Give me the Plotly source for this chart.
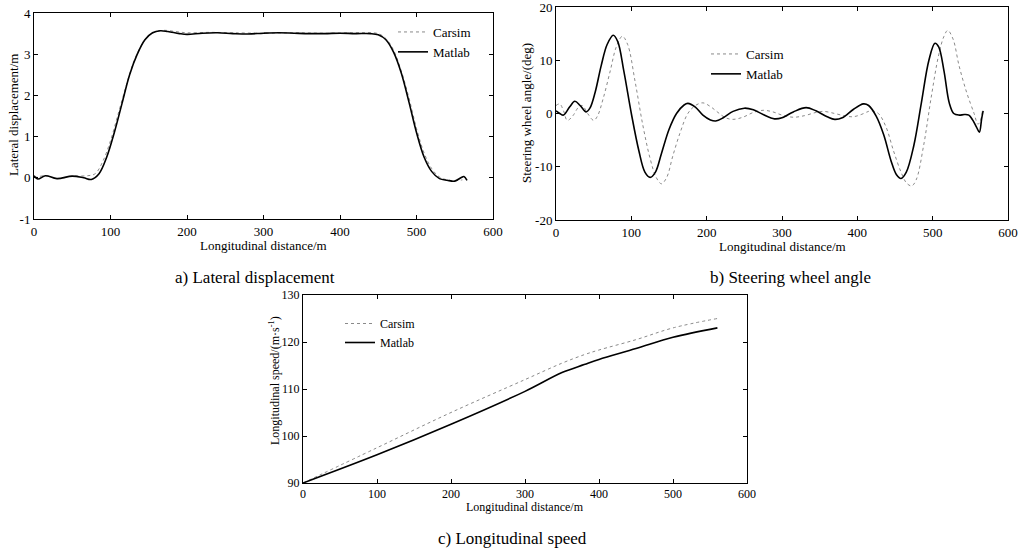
import plotly.graph_objects as go

# a) lateral displacement
lat_x_matlab = [0, 5, 15, 30, 50, 65, 75, 85, 95, 105, 115, 125, 135, 145, 155, 165, 175, 190, 200, 220, 240,
                260, 280, 300, 320, 340, 360, 380, 400, 420, 440, 450, 460, 470, 480, 490, 500, 510, 520, 530,
                540, 550, 558, 562, 566]
lat_y_matlab = [0.05, -0.03, 0.05, -0.02, 0.04, 0.0, -0.04, 0.1, 0.5, 1.1, 1.8, 2.5, 3.0, 3.35, 3.52, 3.57, 3.55,
                3.5, 3.48, 3.51, 3.52, 3.5, 3.49, 3.51, 3.52, 3.51, 3.5, 3.5, 3.51, 3.5, 3.5, 3.47, 3.35, 3.05,
                2.55, 1.85, 1.1, 0.5, 0.15, -0.02, -0.06, -0.08, 0.0, 0.03, -0.06]
lat_x_carsim = [0, 15, 30, 50, 70, 80, 90, 100, 110, 120, 130, 140, 150, 160, 170, 185, 200, 230, 260, 300,
                340, 380, 420, 440, 450, 460, 470, 480, 490, 500, 510, 520, 530, 540, 550, 560]
lat_y_carsim = [0.0, 0.05, -0.02, 0.04, 0.05, 0.1, 0.4, 0.9, 1.55, 2.2, 2.8, 3.2, 3.45, 3.55, 3.58, 3.55, 3.52,
                3.53, 3.52, 3.51, 3.52, 3.51, 3.52, 3.52, 3.5, 3.38, 3.1, 2.6, 1.95, 1.2, 0.6, 0.22, 0.02,
                -0.05, -0.07, -0.05]
lat_ticks = [-1, 0, 1, 2, 3, 4]

# b) steering wheel angle
sw_x_matlab = [0, 5, 10, 18, 25, 32, 40, 45, 52, 60, 68, 76, 82, 90, 100, 110, 118, 125, 132, 140, 150, 160,
               170, 175, 185, 195, 205, 212, 222, 235, 250, 262, 275, 290, 300, 315, 332, 345, 360, 370, 380,
               395, 408, 415, 425, 435, 445, 452, 458, 465, 475, 485, 495, 503, 508, 515, 522, 528, 535, 542,
               548, 553, 558, 562, 565, 567]
sw_y_matlab = [0.5, 0.0, -0.3, 1.2, 2.3, 1.5, 0.3, 1.0, 4.0, 9.0, 13.0, 14.7, 13.5, 8.0, 0.0, -7.0, -11.0, -12.0,
               -11.0, -7.5, -3.0, 0.0, 1.6, 1.9, 1.2, -0.3, -1.2, -1.4, -0.8, 0.4, 1.0, 0.7, -0.2, -1.0, -0.8,
               0.3, 1.1, 0.5, -0.6, -1.1, -0.8, 0.8, 1.8, 1.5, -0.5, -4.0, -9.0, -11.5, -12.2, -11.0, -6.0, 2.0,
               10.0, 13.2, 12.5, 8.0, 2.0, 0.0, -0.3, -0.2, -0.3, -1.2, -2.5, -3.5, -1.0, 0.5]
sw_x_carsim = [0, 5, 10, 15, 22, 30, 35, 42, 50, 55, 63, 72, 80, 88, 95, 105, 115, 125, 133, 140, 147, 155, 165,
               175, 185, 195, 205, 215, 225, 235, 248, 262, 275, 288, 300, 315, 330, 345, 355, 370, 385, 395,
               405, 415, 420, 428, 438, 448, 458, 465, 472, 478, 488, 498, 508, 515, 520, 527, 535, 545, 555,
               560, 563, 566]
sw_y_carsim = [1.5, 1.8, 0.5, -1.3, -0.5, 1.2, 1.5, 0.0, -1.3, -0.5, 3.0, 8.0, 12.5, 14.5, 13.0, 6.0, -2.0, -8.5,
               -12.0, -13.2, -12.0, -8.0, -3.5, 0.0, 1.5, 2.0, 1.3, 0.2, -0.8, -1.1, -0.7, 0.2, 0.6, 0.3, -0.3,
               -0.7, -0.4, 0.2, 0.4, 0.0, -0.5, -0.6, -0.2, 0.4, 0.5, 0.0, -2.5, -7.0, -11.0, -13.0, -13.6,
               -12.5, -6.0, 3.0, 11.0, 14.5, 15.6, 14.0, 9.0, 4.0, 0.0, -2.0, -1.5, 0.5]
sw_ticks = [-20, -10, 0, 10, 20]

# c) longitudinal speed
sp_x = [0, 100, 200, 300, 350, 380, 400, 450, 500, 560]
sp_carsim = [90, 97.5, 105, 112, 115.5, 117.3, 118.3, 120.5, 123, 125]
sp_matlab = [90, 96, 102.5, 109.5, 113.5, 115.2, 116.3, 118.6, 121, 123]
sp_ticks = [90, 100, 110, 120, 130]

dist_ticks = [0, 100, 200, 300, 400, 500, 600]

FONT = "Liberation Serif"
CARSIM = dict(color="#8a8a8a", width=1, dash="dot")
MATLAB = dict(color="#000000", width=1.6)

W, H = 1026, 550


def px_x(p):
    return p / W


def px_y(p):
    return 1 - p / H


fig = go.Figure()

panels = [
    ("", lat_x_carsim, lat_y_carsim, lat_x_matlab, lat_y_matlab, "legend"),
    ("2", sw_x_carsim, sw_y_carsim, sw_x_matlab, sw_y_matlab, "legend2"),
    ("3", sp_x, sp_carsim, sp_x, sp_matlab, "legend3"),
]
for suf, xc, yc, xm, ym, leg in panels:
    fig.add_trace(go.Scatter(x=xc, y=yc, mode="lines", name="Carsim", line=dict(CARSIM, shape="spline"),
                             xaxis="x" + suf, yaxis="y" + suf, legend=leg))
    fig.add_trace(go.Scatter(x=xm, y=ym, mode="lines", name="Matlab", line=dict(MATLAB, shape="spline"),
                             xaxis="x" + suf, yaxis="y" + suf, legend=leg))


def axis(ticks, size=13, **kw):
    # plain hyphen minus signs, like the original figure
    return dict(showline=True, linecolor="black", linewidth=1, mirror="ticks", ticks="inside", ticklen=4,
                tickcolor="black", showgrid=False, zeroline=False, automargin=False,
                ticklabeloverflow="allow",
                tickvals=ticks, ticktext=[str(t) for t in ticks], range=[ticks[0], ticks[-1]],
                tickfont=dict(family=FONT, size=size, color="black"), **kw)


leg_style = dict(xanchor="left", yanchor="top", bgcolor="rgba(0,0,0,0)", itemwidth=30)

fig.update_layout(
    width=W, height=H,
    margin=dict(l=0, r=0, t=0, b=0),
    paper_bgcolor="white", plot_bgcolor="white",
    font=dict(family=FONT, size=13, color="black"),
    xaxis=axis(dist_ticks, domain=[px_x(34), px_x(493)], anchor="y"),
    yaxis=axis(lat_ticks, domain=[px_y(219), px_y(13)], anchor="x"),
    xaxis2=axis(dist_ticks, domain=[px_x(556), px_x(1008)], anchor="y2"),
    yaxis2=axis(sw_ticks, domain=[px_y(220), px_y(7)], anchor="x2"),
    xaxis3=axis(dist_ticks, 12, domain=[px_x(303), px_x(747)], anchor="y3"),
    yaxis3=axis(sp_ticks, 12, domain=[px_y(483), px_y(295)], anchor="x3"),
    legend=dict(leg_style, x=px_x(393), y=px_y(17), font=dict(size=13)),
    legend2=dict(leg_style, x=px_x(706), y=px_y(39), font=dict(size=13)),
    legend3=dict(leg_style, x=px_x(340), y=px_y(309), font=dict(size=12)),
)

# axis titles and captions, placed by pixel position
labels = [
    ("Longitudinal distance/m", 263, 245, 0, 13),
    ("Lateral displacement/m", 13, 115, -90, 13),
    ("Longitudinal distance/m", 782, 246, 0, 13),
    ("Steering wheel angle/(deg)", 526, 113, -90, 13),
    ("Longitudinal distance/m", 525, 507, 0, 12),
    ("Longitudinal speed/(m·s<sup>-1</sup>)", 274, 381, -90, 12),
    ("a) Lateral displacement", 255, 277, 0, 17),
    ("b) Steering wheel angle", 790, 277, 0, 17),
    ("c) Longitudinal speed", 512, 538, 0, 17),
]
for text, cx, cy, ang, size in labels:
    fig.add_annotation(text=text, x=px_x(cx), y=px_y(cy), xref="paper", yref="paper", showarrow=False,
                       textangle=ang, xanchor="center", yanchor="middle",
                       font=dict(family=FONT, size=size, color="black"))

# drop the page's default body margin so the figure fills the window exactly
fig.write_html("out.html", config={"displayModeBar": False},
               post_script="document.body.style.margin = '0';")
